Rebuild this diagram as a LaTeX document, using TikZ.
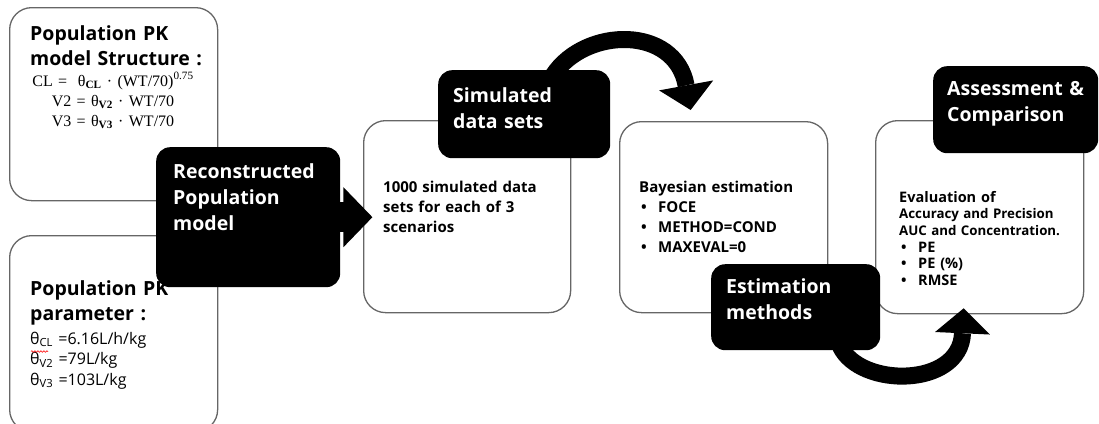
\documentclass[tikz,border=0pt]{standalone}
\usepackage{fontspec}
\setmainfont{Open Sans}
\newfontfamily\formfont{Liberation Serif}
\usetikzlibrary{arrows.meta,calc,decorations.pathmorphing}
\begin{document}
\begin{tikzpicture}[x=1pt,y=-1pt,
  wbox/.style={draw=black!60, line width=1.3pt, rounded corners=22pt, fill=white, anchor=north west, inner sep=0pt},
  bbox/.style={fill=black, rounded corners=14pt, anchor=north west, inner sep=0pt},
  txt/.style={anchor=base west, inner sep=0pt, align=left, text width=200pt},
  wtitle/.style={txt, text=white, font=\bfseries\fontsize{19.5}{26}\selectfont},
  btitle/.style={txt, font=\bfseries\fontsize{19.5}{25}\selectfont},
  bodytxt/.style={txt, font=\bfseries\fontsize{15}{20}\selectfont},
  bigarrow/.style={line width=17pt, -{Triangle[length=25pt,width=55pt,line width=0pt]}},
  squiggle/.style={red, line width=0.6pt, decorate, decoration={snake, amplitude=0.8pt, segment length=3pt}}
]
\useasboundingbox (0,0) rectangle (1099,423);
\newcommand{\bul}[1]{\hspace*{2pt}\makebox[17pt][l]{\textbullet}#1}

% white boxes
\node[wbox, minimum width=208pt, minimum height=193pt] (b1) at (9,7) {};
\node[wbox, minimum width=208pt, minimum height=196pt] (b2) at (9,235) {};
\node[wbox, minimum width=207pt, minimum height=192pt] (b3) at (363,120) {};
\node[wbox, minimum width=208pt, minimum height=191pt] (b4) at (619,121) {};
\node[wbox, minimum width=208pt, minimum height=193pt] (b5) at (875,120) {};

% texts in white boxes
\node[btitle] (t1) at (30,40) {Population PK\\model Structure :};
\node[anchor=base, inner sep=0pt, align=center, text width=200pt, font=\formfont\fontsize{16}{20}\selectfont] (f1) at (113,86)
  {CL =\ \ θ\textsubscript{\textbf{CL}} · (WT/70)\textsuperscript{0.75}\\
   V2 = θ\textsubscript{\textbf{V2}} · WT/70\\
   V3 = θ\textsubscript{\textbf{V3}} · WT/70};
\node[btitle] (t2) at (30,295) {Population PK\\parameter :};
\node[txt, font=\fontsize{16}{20.5}\selectfont] (p2) at (30,344)
  {θ\textsubscript{CL} =6.16L/h/kg\\θ\textsubscript{V2} =79L/kg\\θ\textsubscript{V3} =103L/kg};
\draw[squiggle] (31,351.5) -- (48,351.5);
\node[bodytxt] (t3) at (383,192) {1000 simulated data\\sets for each of 3\\scenarios};
\node[bodytxt] (t4) at (639,192) {Bayesian estimation\\\bul{FOCE}\\\bul{METHOD=COND}\\\bul{MAXEVAL=0}};
\node[txt, font=\bfseries\fontsize{14.5}{18}\selectfont] (t5) at (899,202) {Evaluation of};
\node[txt, font=\bfseries\fontsize{13.3}{17}\selectfont] (t5b) at (899,218) {Accuracy and Precision\\AUC and Concentration.};
\node[txt, font=\bfseries\fontsize{14.5}{16.5}\selectfont] (t5c) at (899,252) {\bul{PE}\\\bul{PE (\%)}\\\bul{RMSE}};

% curved arrows
\draw[bigarrow] ($(b3.north east)+(-18,-45)$) coordinate (a1s)
  .. controls (585,27) and (675,25) .. ($(b4.north)+(-33,-11)$);
\draw[bigarrow] ($(b4.south east)+(12,33)$) coordinate (a2s)
  .. controls (860,388) and (960,388) .. ($(b5.south)+(-16,-6)$);

% black boxes
\node[bbox, minimum width=184pt, minimum height=140pt] (rec) at (156,147) {};
\fill ($(rec.east)+(-3,-15)$) rectangle ($(rec.east)+(5,15)$);
\fill ($(rec.east)+(3,-30)$) -- ($(rec.east)+(32,0)$) -- ($(rec.east)+(3,30)$) -- cycle;
\node[bbox, minimum width=172pt, minimum height=88pt] (sim) at (438,70) {};
\node[bbox, minimum width=169pt, minimum height=86pt] (est) at (711,264) {};
\node[bbox, minimum width=165pt, minimum height=87pt] (ass) at (933,66) {};

\node[wtitle] (rt) at (173,178) {Reconstructed\\Population\\model};
\node[wtitle] (st) at (453,102) {Simulated\\data sets};
\node[wtitle] (et) at (726,293) {Estimation\\methods};
\node[wtitle] (at) at (947,95) {Assessment \&\\Comparison};
\end{tikzpicture}
\end{document}
